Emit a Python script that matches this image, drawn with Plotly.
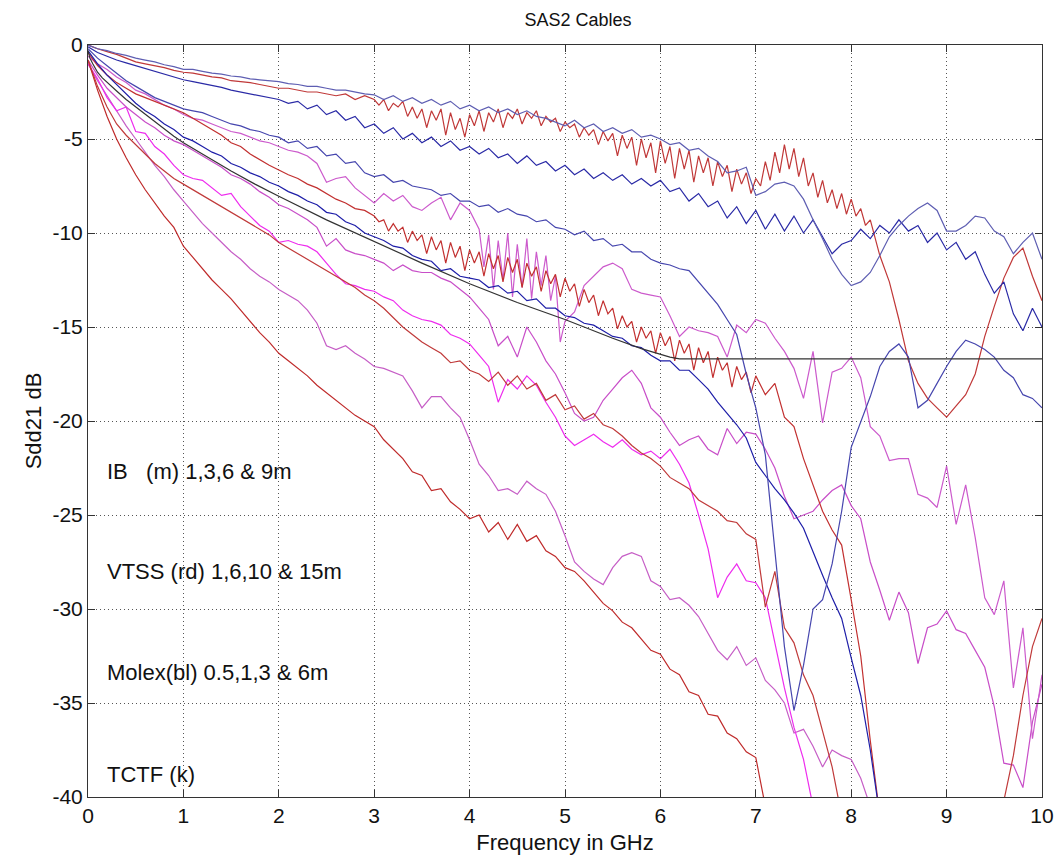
import plotly.graph_objects as go

# frequency grid (GHz), 0.1 GHz sampling
freq = [round(0.1 * i, 1) for i in range(101)]

# Molex (blue) 0.5, 1, 3, 6 m
molex_05m = [0.0, -0.2, -0.3, -0.45, -0.55, -0.7, -0.8, -0.9, -1.05, -1.15,
             -1.3, -1.3, -1.4, -1.5, -1.55, -1.65, -1.7, -1.8, -1.85, -1.9,
             -1.95, -2.05, -2.1, -2.2, -2.2, -2.3, -2.4, -2.4, -2.5, -2.6,
             -2.65, -2.9, -2.7, -3.0, -2.8, -3.1, -2.9, -3.2, -3.0, -3.4,
             -3.2, -3.5, -3.3, -3.6, -3.4, -3.7, -3.5, -3.8, -3.9, -4.1,
             -4.3, -4.0, -4.4, -4.2, -4.6, -4.4, -4.7, -4.5, -4.9, -4.8,
             -5.0, -5.3, -5.2, -5.6, -5.5, -5.9, -6.2, -6.8, -6.7, -6.5,
             -8.0, -7.8, -7.4, -7.3, -7.5, -8.2, -9.3, -10.3, -11.4, -12.2,
             -12.8, -12.6, -12.1, -11.2, -10.2, -9.6, -9.1, -8.7, -8.4, -8.8,
             -9.9, -9.9, -9.6, -9.1, -9.2, -9.9, -10.2, -11.1, -10.5, -10.0,
             -11.4]
molex_1m = [-0.1, -0.4, -0.6, -0.8, -0.95, -1.1, -1.25, -1.4, -1.55, -1.7,
            -1.85, -1.95, -2.05, -2.15, -2.25, -2.4, -2.5, -2.6, -2.7, -2.8,
            -2.9, -3.1, -3.0, -3.4, -3.2, -3.7, -3.5, -4.0, -3.8, -4.4,
            -4.2, -4.7, -4.4, -5.0, -4.7, -5.2, -4.9, -5.4, -5.1, -5.6,
            -5.4, -5.8, -5.5, -6.0, -5.8, -6.3, -5.9, -6.4, -6.2, -6.7,
            -6.4, -6.9, -6.6, -7.1, -6.8, -7.2, -6.9, -7.4, -7.1, -7.5,
            -7.2, -7.8, -7.6, -8.3, -7.9, -8.6, -8.3, -9.2, -8.6, -9.5,
            -8.8, -9.8, -9.0, -9.9, -9.1, -10.0, -9.3, -10.2, -11.1, -10.6,
            -10.4, -9.8, -10.3, -9.6, -10.0, -9.3, -9.9, -9.6, -10.5, -10.0,
            -10.9, -10.5, -11.4, -11.0, -12.2, -13.2, -12.6, -14.3, -15.2, -14.0,
            -15.0]
molex_3m = [-0.2, -0.7, -1.1, -1.5, -1.9, -2.2, -2.5, -2.8, -3.0, -3.2,
            -3.4, -3.5, -3.6, -3.8, -4.0, -4.2, -4.3, -4.5, -4.6, -4.8,
            -4.9, -5.2, -5.1, -5.5, -5.4, -5.9, -5.8, -6.3, -6.2, -6.8,
            -7.0, -6.9, -7.3, -7.2, -7.5, -7.6, -7.7, -8.0, -7.9, -8.3,
            -8.3, -8.6, -8.5, -8.9, -8.7, -9.0, -9.1, -9.4, -9.3, -9.7,
            -9.8, -10.1, -9.9, -10.4, -10.3, -10.7, -10.6, -11.0, -11.0, -11.4,
            -11.6, -11.7, -11.9, -12.0, -12.6, -13.2, -13.8, -14.6, -15.4, -17.5,
            -19.3, -21.8, -26.8, -32.0, -35.4, -33.0, -30.0, -29.5, -27.6, -24.8,
            -21.4, -20.0, -18.7, -17.1, -16.3, -15.9, -16.6, -19.3, -18.9, -18.0,
            -17.1, -16.3, -15.7, -15.9, -16.2, -16.6, -17.3, -17.7, -18.6, -18.8,
            -19.3]
molex_6m = [-0.3, -1.0, -1.6, -2.1, -2.6, -3.1, -3.5, -3.8, -4.2, -4.5,
            -4.9, -5.1, -5.4, -5.7, -5.9, -6.3, -6.5, -6.8, -7.0, -7.3,
            -7.5, -7.8, -8.0, -8.3, -8.5, -8.9, -9.0, -9.4, -9.6, -10.0,
            -10.2, -10.4, -10.7, -10.8, -11.2, -11.4, -11.5, -12.0, -11.9, -12.3,
            -12.4, -12.5, -12.9, -12.8, -13.2, -13.1, -13.6, -13.5, -14.0, -14.0,
            -14.4, -14.5, -14.8, -14.9, -15.2, -15.5, -15.6, -16.0, -16.1, -16.5,
            -16.8, -16.8, -17.3, -17.3, -17.8, -18.3, -19.0, -19.6, -20.2, -20.9,
            -22.2, -22.9, -23.6, -24.2, -24.9, -25.7, -27.0, -28.2, -29.4, -30.5,
            -32.6, -34.6, -37.5, -41.0]

# VTSS (red) 1, 6, 10, 15 m  (1 m and 6 m sampled every 0.05 GHz in their ripple band)
vtss_1m_freq = freq[:30] + [round(3.0 + 0.05 * i, 2) for i in range(105)] + freq[83:]
vtss_1m = [0.0, -0.2, -0.35, -0.5, -0.7, -0.9, -1.0, -1.1, -1.2, -1.35,
           -1.45, -1.5, -1.6, -1.7, -1.75, -1.9, -1.95, -2.0, -2.1, -2.2,
           -2.3, -2.3, -2.4, -2.5, -2.5, -2.6, -2.7, -2.6, -2.9, -2.7,
           # 3.00 .. 8.20 every 0.05
           -2.9, -3.2, -2.9, -3.5, -3.1, -3.3, -3.0, -3.8, -3.3, -3.9,
           -3.4, -4.4, -3.5, -4.0, -3.4, -4.8, -3.6, -4.5, -3.9, -4.9,
           -3.7, -4.3, -3.5, -4.6, -3.6, -4.1, -3.4, -4.4, -3.6, -3.9,
           -3.4, -4.2, -3.6, -3.9, -3.5, -4.3, -3.8, -4.1, -3.9, -4.6,
           -4.1, -4.4, -4.2, -4.9, -4.4, -4.8, -4.5, -5.3, -4.6, -5.1,
           -4.7, -5.9, -4.8, -5.5, -4.9, -6.4, -5.0, -6.0, -5.2, -6.8,
           -5.1, -6.3, -5.4, -7.1, -5.5, -6.6, -5.6, -7.3, -5.9, -6.8,
           -6.0, -7.5, -6.2, -7.0, -6.4, -7.8, -6.6, -7.4, -6.8, -7.9,
           -7.1, -7.5, -6.2, -7.2, -5.7, -6.8, -5.3, -6.6, -5.5, -7.0,
           -6.0, -7.5, -6.8, -8.1, -7.2, -8.4, -7.7, -8.7, -7.9, -9.0,
           -8.2, -9.1, -8.7, -9.6, -9.3,
           # 8.3 .. 10.0
           -11.2, -12.6, -14.6, -16.8, -18.0, -18.8, -19.3, -19.8, -19.2, -18.6,
           -17.5, -15.5, -13.9, -12.4, -11.3, -10.8, -12.3, -13.6]
vtss_6m_freq = freq[:30] + [round(3.0 + 0.05 * i, 2) for i in range(81)] + freq[71:84]
vtss_6m = [-0.4, -1.1, -1.6, -2.0, -2.3, -2.6, -2.8, -3.0, -3.2, -3.4,
           -3.6, -3.9, -4.2, -4.5, -4.8, -5.2, -5.4, -5.8, -6.1, -6.4,
           -6.65, -6.9, -7.1, -7.4, -7.6, -7.9, -8.2, -8.4, -8.7, -8.8,
           # 3.00 .. 7.00 every 0.05
           -9.1, -9.4, -9.3, -9.9, -9.5, -9.9, -9.7, -10.5, -9.9, -10.4,
           -10.1, -11.1, -10.2, -10.9, -10.4, -11.6, -10.5, -11.3, -10.7, -12.0,
           -10.9, -11.6, -11.0, -12.3, -11.1, -11.9, -11.2, -12.6, -11.3, -12.1,
           -11.4, -12.9, -11.6, -12.3, -11.8, -13.1, -12.0, -12.7, -12.2, -13.4,
           -12.4, -13.1, -12.7, -13.9, -13.0, -13.7, -13.3, -14.4, -13.6, -14.3,
           -14.0, -15.1, -14.4, -15.0, -14.7, -15.8, -15.0, -15.6, -15.2, -16.4,
           -15.3, -16.0, -15.5, -16.8, -15.7, -16.4, -15.9, -17.3, -16.1, -16.9,
           -16.3, -17.7, -16.6, -17.3, -16.9, -18.2, -17.1, -17.8, -17.4, -18.5,
           -17.6,
           # 7.1 .. 8.3
           -18.6, -18.0, -19.8, -20.3, -22.0, -23.4, -24.8, -25.8, -26.6,
           -29.5, -32.5, -37.0, -41.0]
vtss_10m = [-0.8, -2.2, -3.3, -4.2, -4.8, -5.3, -5.8, -6.3, -6.7, -7.1,
            -7.4, -7.7, -8.0, -8.3, -8.6, -8.9, -9.2, -9.5, -9.8, -10.1,
            -10.5, -10.8, -11.1, -11.4, -11.7, -12.0, -12.3, -12.6, -12.9, -13.3,
            -13.6, -14.0, -14.5, -15.0, -15.4, -15.8, -16.1, -16.4, -16.9, -16.8,
            -17.3, -17.5, -17.9, -17.4, -18.1, -17.6, -18.3, -18.0, -18.9, -18.6,
            -19.4, -19.2, -19.9, -19.6, -20.2, -20.4, -20.8, -21.3, -21.7, -22.0,
            -22.4, -23.0, -23.3, -23.6, -24.2, -24.5, -24.8, -25.3, -25.4, -26.0,
            -26.3, -29.9, -28.0, -31.0, -31.8, -33.5, -34.6, -36.5, -38.4, -41.0,
            None, None, None, None, None, None, None, None, None, None,
            None, None, None, None, None, -41.0, -40.2, -37.8, -34.6, -32.0,
            -30.5]
vtss_15m = [-0.8, -2.4, -3.8, -5.0, -6.0, -6.9, -7.7, -8.4, -9.1, -9.7,
            -10.7, -11.3, -11.9, -12.5, -13.0, -13.5, -14.1, -14.7, -15.3, -15.8,
            -16.4, -16.8, -17.2, -17.6, -18.1, -18.5, -18.9, -19.3, -19.7, -20.0,
            -20.3, -21.0, -21.5, -22.0, -22.7, -22.9, -23.7, -23.6, -24.3, -24.7,
            -25.2, -25.0, -25.9, -25.4, -26.3, -25.5, -26.4, -26.1, -26.9, -27.2,
            -27.8, -28.0, -28.5, -29.1, -29.7, -30.1, -30.7, -31.0, -31.6, -32.2,
            -32.4, -33.2, -33.5, -34.4, -34.6, -35.6, -35.7, -36.6, -36.9, -37.6,
            -37.9, -40.5]

# IB (magenta) 1, 3, 6, 9 m  (1 m sampled every 0.05 GHz in 4.1-4.95 GHz)
ib_1m_freq = freq[:41] + [round(4.1 + 0.05 * i, 2) for i in range(18)] + freq[50:]
ib_1m = [-0.6, -1.0, -1.3, -1.7, -2.0, -2.4, -2.6, -2.9, -3.2, -3.4,
         -3.7, -3.9, -4.0, -4.2, -4.4, -4.6, -4.7, -4.9, -5.1, -5.2,
         -5.4, -5.6, -5.7, -5.9, -6.3, -7.3, -7.1, -7.0, -7.6, -8.0,
         -8.4, -7.9, -8.3, -8.0, -8.6, -8.8, -8.4, -8.1, -9.3, -8.4,
         -8.8,
         # 4.10 .. 4.95 every 0.05
         -9.8, -11.8, -10.1, -13.0, -10.4, -12.5, -10.0, -13.4, -10.6, -12.9,
         -10.3, -13.5, -11.0, -12.8, -11.2, -13.6, -12.3, -15.8,
         # 5.0 .. 10.0
         -14.7, -14.2, -12.8, -12.3, -11.8, -11.6, -11.9, -13.0, -13.2, -13.3,
         -13.4, -14.4, -15.5, -15.0, -15.2, -15.3, -15.5, -16.6, -14.9, -15.3,
         -14.6, -14.8, -15.6, -16.3, -17.2, -18.8, -16.3, -20.1, -17.4, -17.2,
         -16.6, -17.7, -20.3, -20.8, -22.1, -22.0, -22.0, -23.9, -24.1, -24.6,
         -22.4, -25.5, -23.4, -26.2, -29.4, -30.3, -28.5, -34.2, -31.0, -36.9,
         -33.5]
ib_3m = [-0.8, -1.6, -2.3, -2.8, -3.3, -3.7, -4.1, -4.4, -4.8, -5.1,
         -5.3, -5.6, -5.9, -6.2, -6.5, -6.9, -7.1, -7.4, -7.8, -8.1,
         -8.5, -8.7, -9.0, -9.3, -9.7, -10.7, -10.3, -10.9, -11.1, -11.2,
         -11.4, -11.6, -12.0, -11.7, -12.0, -12.1, -12.1, -12.4, -12.6, -13.0,
         -13.4, -14.0, -14.6, -16.0, -15.5, -16.6, -15.0, -15.8, -16.8, -17.5,
         -18.5, -19.6, -20.0, -19.8, -18.9, -18.3, -17.7, -17.3, -18.0, -19.3,
         -19.8, -20.6, -21.3, -21.0, -20.8, -21.5, -21.8, -20.4, -21.2, -20.6,
         -20.7, -21.5, -22.5, -24.0, -25.2, -25.0, -24.8, -24.2, -23.7, -23.4,
         -24.5, -25.2, -27.5, -29.0, -30.6, -29.1, -30.2, -32.9, -31.0, -30.8,
         -30.1, -31.1, -31.3, -32.2, -33.1, -35.2, -38.2, -38.3, -39.5, -36.0,
         -34.0]
ib_6m = [-1.0, -1.8, -2.8, -3.5, -3.3, -4.6, -4.7, -5.4, -5.8, -6.4,
         -6.9, -7.1, -7.2, -7.6, -8.0, -7.9, -8.6, -9.1, -9.6, -9.9,
         -10.5, -10.4, -10.6, -10.7, -11.0, -11.6, -12.2, -12.7, -12.8, -13.0,
         -13.1, -13.4, -13.6, -14.1, -14.4, -14.6, -14.7, -14.9, -15.4, -15.6,
         -15.9, -16.5, -17.1, -19.0, -17.8, -18.3, -17.6, -18.1, -19.0, -19.8,
         -20.8, -21.3, -21.0, -20.7, -21.1, -21.4, -21.0, -21.5, -21.8, -21.6,
         -22.0, -21.5, -22.3, -23.3, -25.0, -26.8, -29.4, -28.3, -27.6, -28.5,
         -28.6, -29.4, -31.8, -34.2, -36.3, -38.0, -40.5]
ib_9m = [-1.0, -1.9, -2.7, -3.5, -4.3, -5.0, -5.7, -6.4, -7.0, -7.7,
         -8.3, -8.9, -9.5, -10.0, -10.5, -11.0, -11.4, -11.9, -12.3, -12.6,
         -13.0, -13.3, -13.6, -14.1, -14.8, -16.0, -16.2, -16.0, -16.4, -16.7,
         -17.1, -17.2, -17.4, -17.6, -18.4, -19.3, -18.7, -18.7, -19.3, -19.8,
         -21.0, -22.3, -22.9, -23.7, -23.6, -23.9, -23.2, -23.6, -23.9, -24.8,
         -26.1, -27.5, -28.0, -28.4, -28.7, -27.8, -27.2, -27.0, -27.2, -28.5,
         -28.8, -29.5, -29.4, -29.8, -30.4, -31.3, -32.2, -32.7, -32.0, -33.0,
         -32.6, -33.8, -34.3, -35.0, -36.6, -36.4, -37.3, -38.4, -37.5, -37.8,
         -38.0, -39.0, -40.5]

# TCTF (black) limit line
tctf_freq = [0, 0.02, 0.05, 0.1, 0.15, 0.2, 0.3, 0.4, 0.5, 0.6, 0.75, 0.9, 1.0,
             1.25, 1.5, 1.75, 2.0, 2.5, 3.0, 3.5, 4.0, 4.5, 5.0, 5.5, 5.8, 6.0,
             6.1, 6.2, 10.0]
tctf_db = [-0.3, -0.7, -1.0, -1.45, -1.75, -2.0, -2.45, -2.9, -3.3, -3.7, -4.3,
           -4.85, -5.2, -5.95, -6.7, -7.4, -8.05, -9.3, -10.45, -11.6, -12.7,
           -13.7, -14.6, -15.6, -16.15, -16.45, -16.6, -16.7, -16.7]

# axis ticks
x_ticks = [0, 1, 2, 3, 4, 5, 6, 7, 8, 9, 10]
y_ticks = [-40, -35, -30, -25, -20, -15, -10, -5, 0]
y_tick_labels = ["-40", "-35", "-30", "-25", "-20", "-15", "-10", "-5", "0"]

legend_notes = ["IB\u00a0\u00a0\u00a0(m) 1,3,6 & 9m", "VTSS (rd) 1,6,10 & 15m",
                "Molex(bl) 0.5,1,3 & 6m", "TCTF (k)"]
legend_note_y = [-22.7, -28.0, -33.4, -38.8]

series = [
    ("IB 9m", freq, ib_9m, "#c65ec6"),
    ("IB 6m", freq, ib_6m, "#ee2cee"),
    ("IB 3m", freq, ib_3m, "#c84ec8"),
    ("IB 1m", ib_1m_freq, ib_1m, "#cc5acc"),
    ("VTSS 15m", freq, vtss_15m, "#bf2a2a"),
    ("VTSS 10m", freq, vtss_10m, "#c03a3a"),
    ("VTSS 6m", vtss_6m_freq, vtss_6m, "#c23030"),
    ("VTSS 1m", vtss_1m_freq, vtss_1m, "#c03838"),
    ("Molex 6m", freq, molex_6m, "#1e1ea8"),
    ("Molex 3m", freq, molex_3m, "#4646ae"),
    ("Molex 1m", freq, molex_1m, "#2a2aa6"),
    ("Molex 0.5m", freq, molex_05m, "#5e5eb2"),
]

FONT = "Liberation Sans, Arial, sans-serif"

fig = go.Figure()
for name, xs, vals, col in series:
    fig.add_trace(go.Scatter(x=xs[:len(vals)], y=vals, mode="lines", name=name,
                             line=dict(color=col, width=1.2), connectgaps=False))
fig.add_trace(go.Scatter(x=tctf_freq, y=tctf_db, mode="lines", name="TCTF",
                         line=dict(color="#333333", width=1.2)))

for txt, yv in zip(legend_notes, legend_note_y):
    fig.add_annotation(x=0.18, y=yv, xref="x", yref="y", text=txt, showarrow=False,
                       xanchor="left", yanchor="middle",
                       font=dict(family=FONT, size=22, color="#111"))

axis_common = dict(showline=True, linecolor="#333", linewidth=1, mirror="ticks",
                   ticks="inside", ticklen=7, tickcolor="#333", tickwidth=1,
                   showgrid=True, gridcolor="#555", gridwidth=1, griddash="1px,3px",
                   zeroline=False, automargin=False,
                   tickfont=dict(family=FONT, size=21, color="#111"))

fig.update_layout(
    width=1057, height=858,
    margin=dict(l=88, r=15, t=45, b=61),
    paper_bgcolor="white", plot_bgcolor="white",
    showlegend=False,
    title=dict(text="SAS2 Cables", x=578 / 1057, xanchor="center", y=1 - 20 / 858, yanchor="middle",
               font=dict(family=FONT, size=18, color="#111")),
    xaxis=dict(range=[0, 10], tickmode="array", tickvals=x_ticks,
               title=dict(text="Frequency in GHz", standoff=8,
                          font=dict(family=FONT, size=22, color="#111")),
               **axis_common),
    yaxis=dict(range=[-40, 0], tickmode="array", tickvals=y_ticks, ticktext=y_tick_labels,
               title=dict(text="Sdd21 dB", standoff=4,
                          font=dict(family=FONT, size=22, color="#111")),
               **axis_common),
)

fig.write_html("out.html", config={"displayModeBar": False},
               post_script="document.body.style.margin='0';")
